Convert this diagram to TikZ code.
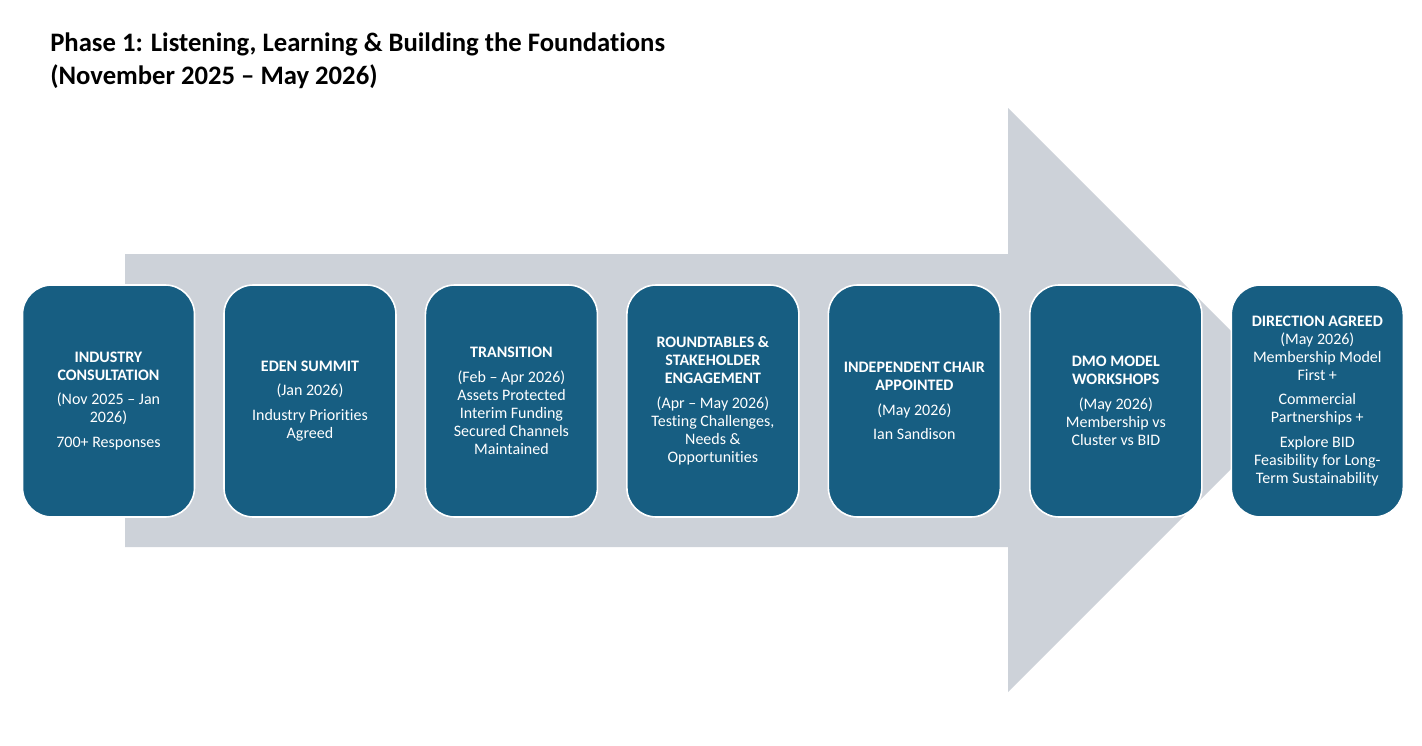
\documentclass[tikz,border=0pt]{standalone}
\usepackage{fontspec}
\setmainfont[Ligatures=NoCommon]{Carlito}
\usepackage{xcolor}
\usepackage{tikz}
\usetikzlibrary{positioning}

\definecolor{boxblue}{HTML}{175E82}
\definecolor{arrowgray}{HTML}{CDD2D9}

\begin{document}
\begin{tikzpicture}[
    x=0.75pt, y=-0.75pt,
    stepbox/.style={draw=white, line width=1.2pt, fill=boxblue, rounded corners=22pt,
      minimum width=129pt, minimum height=174pt, inner sep=0pt,
      text=white, align=center, font=\fontsize{12}{13.5}\selectfont},
    node distance=20.9pt,
  ]
  \useasboundingbox (0,0) rectangle (1422,746);
  % la grosse fleche grise
  \fill[arrowgray] (125,254) -- (1008,254) -- (1008,108) -- (1300,400)
    -- (1008,692) -- (1008,547) -- (125,547) -- cycle;
  \node[anchor=north west, inner sep=0pt, align=left,
    font=\fontsize{20}{24.75}\selectfont\bfseries] (title) at (50,33)
    {Phase 1: Listening, Learning \& Building the Foundations\\(November 2025 -- May 2026)};
  \node[stepbox] (consult) at (108.5,401)
    {\textbf{INDUSTRY}\\\textbf{CONSULTATION}\\[5pt](Nov 2025 -- Jan\\2026)\\[5pt]700+ Responses};
  \node[stepbox, right=of consult] (summit)
    {\textbf{EDEN SUMMIT}\\[5pt](Jan 2026)\\[5pt]Industry Priorities\\Agreed};
  \node[stepbox, right=of summit] (transition)
    {\textbf{TRANSITION}\\[5pt](Feb -- Apr 2026)\\Assets Protected\\Interim Funding\\Secured Channels\\Maintained};
  \node[stepbox, right=of transition] (roundtables)
    {\textbf{ROUNDTABLES \&}\\\textbf{STAKEHOLDER}\\\textbf{ENGAGEMENT}\\[5pt](Apr -- May 2026)\\Testing Challenges,\\Needs \&\\Opportunities};
  \node[stepbox, right=of roundtables] (chair)
    {\textbf{INDEPENDENT CHAIR}\\\textbf{APPOINTED}\\[5pt](May 2026)\\[5pt]Ian Sandison};
  \node[stepbox, right=of chair] (workshops)
    {\textbf{DMO MODEL}\\\textbf{WORKSHOPS}\\[5pt](May 2026)\\Membership vs\\Cluster vs BID};
  \node[stepbox, right=of workshops] (direction)
    {\textbf{DIRECTION AGREED}\\(May 2026)\\Membership Model\\First +\\[5pt]Commercial\\Partnerships +\\[5pt]Explore BID\\Feasibility for Long-\\Term Sustainability};
\end{tikzpicture}
\end{document}
